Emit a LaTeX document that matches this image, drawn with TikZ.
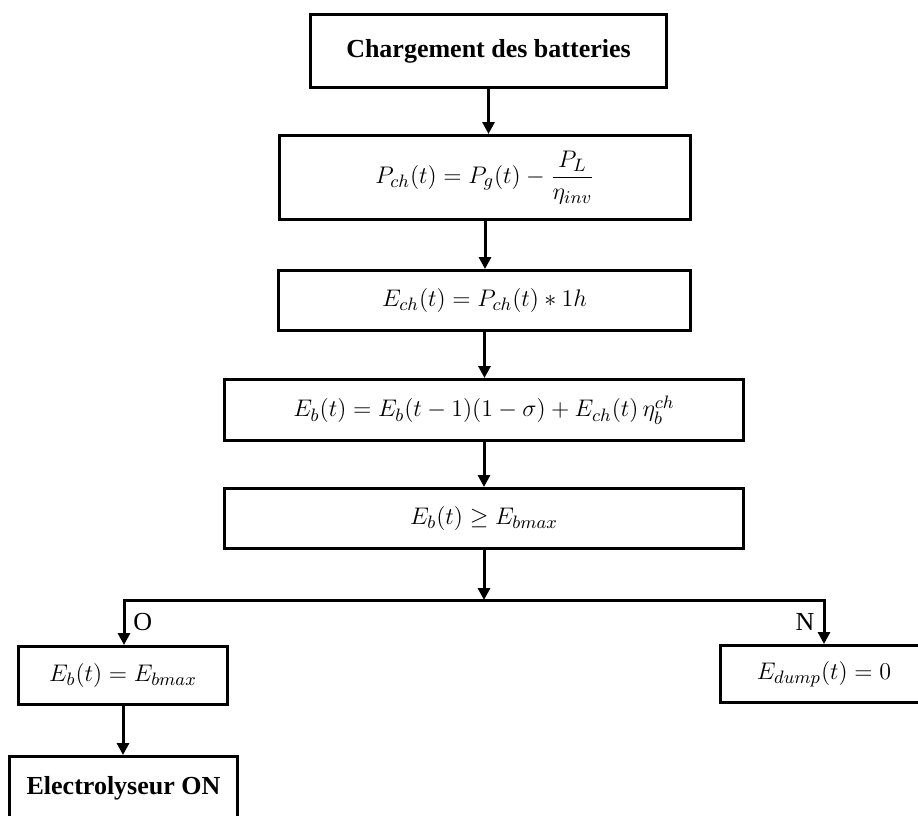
\documentclass[tikz,border=0pt]{standalone}
\usepackage{amsmath}
\usepackage[no-math]{fontspec}
\setmainfont{Liberation Serif}
\usetikzlibrary{arrows.meta,positioning,calc}
\tikzset{
  block/.style={
    draw=black,
    line width=1.5pt,
    align=center,
    inner sep=0pt,
    font=\fontsize{12.3}{15}\selectfont
  },
  titleblock/.style={
    block,
    font=\fontsize{13}{16}\selectfont\bfseries
  },
  arr/.style={-{Triangle[length=6pt,width=6pt]},line width=1.5pt},
  branch/.style={line width=1.5pt,line cap=rect},
  answer/.style={font=\fontsize{13}{15}\selectfont,inner sep=2pt}
}

\begin{document}
\begin{tikzpicture}[x=0.5pt,y=-0.5pt]
  \useasboundingbox (0,0) rectangle (918,816);
  \clip (0,0) rectangle (918,816);
  % main chain
  \node[titleblock,minimum width=178pt,minimum height=36.5pt] (charge) at (488.5,51) {Chargement des batteries};
  \node[block,minimum width=205.5pt,minimum height=42pt] (pch) at (485,177.5) {$P_{ch}(t) = P_g(t) - \dfrac{P_L}{\eta_{inv}}$};
  \node[block,minimum width=206pt,minimum height=30pt] (ech) at (484.5,300.5) {$E_{ch}(t) = P_{ch}(t) * 1h$};
  \node[block,minimum width=259.5pt,minimum height=30.5pt] (eb) at (484,410) {$E_b(t) = E_b(t-1)(1-\sigma) + E_{ch}(t)\,\eta_b^{ch}$};
  \node[block,minimum width=259.5pt,minimum height=30pt] (test) at (484,518.5) {$E_b(t) \geq E_{bmax}$};
  % branches
  \node[block,minimum width=104.5pt,minimum height=29pt] (ebmax) at (123,675.5) {$E_b(t) = E_{bmax}$};
  \node[block,minimum width=103.5pt,minimum height=28.5pt] (dump) at (824,674) {$E_{dump}(t) = 0$};
  \node[titleblock,minimum width=114pt,minimum height=31.5pt] (elec) at (123.5,788) {Electrolyseur ON};
  \coordinate (fork) at (484,600);
  \coordinate (forkO) at (124,600);
  \coordinate (forkN) at (824,600);

  \draw[arr] (charge) -- (charge |- pch.north);
  \draw[arr] (pch) -- (pch |- ech.north);
  \draw[arr] (ech) -- (ech |- eb.north);
  \draw[arr] (eb) -- (eb |- test.north);
  \draw[arr] (test) -- (fork);
  \draw[branch] (forkO) -- (forkN);
  \draw[arr] (forkO) -- node[answer,right=2pt] {O} (forkO |- ebmax.north);
  \draw[arr] (forkN) -- node[answer,left=2pt] {N} (forkN |- dump.north);
  \draw[arr] (ebmax) -- (ebmax |- elec.north);
\end{tikzpicture}
\end{document}
